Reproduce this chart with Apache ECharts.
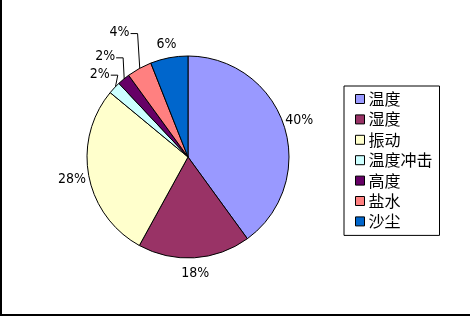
<!DOCTYPE html>
<html>
<head>
<meta charset="utf-8">
<script src="https://cdn.jsdelivr.net/npm/echarts@6/dist/echarts.min.js"></script>
<style>
html,body{margin:0;padding:0;background:#fff;}
#wrap{position:relative;width:470px;height:316px;overflow:hidden;}
#chart{position:absolute;left:0;top:0;width:470px;height:316px;}
#fl{position:absolute;left:0;top:0;width:2px;height:316px;background:#000;}
#fb{position:absolute;left:0;top:314px;width:470px;height:2px;background:#000;}
</style>
</head>
<body>
<div id="wrap"><div id="chart"></div><div id="fl"></div><div id="fb"></div></div>
<script>
const categories = ['温度', '湿度', '振动', '温度冲击', '高度', '盐水', '沙尘'];
const values = [40, 18, 28, 2, 2, 4, 6];
const colors = ['#9999FF', '#993366', '#FFFFCC', '#CCFFFF', '#660066', '#FF8080', '#0066CC'];

// layout / style settings
const CX = 188, CY = 157, RAD = 101;
const labelRadius = [117, 117, 118, 121, 130, 142, 115];
const hasLeader = [false, false, false, true, true, true, false];

const total = values.reduce((a, b) => a + b, 0);
const cum = [];
values.reduce((acc, v, i) => { cum[i] = acc; return acc + v; }, 0);

const chart = echarts.init(document.getElementById('chart'), null, { renderer: 'canvas' });
chart.setOption({
  animation: false,
  backgroundColor: '#fff',
  legend: {
    orient: 'vertical',
    left: 344,
    top: 86,
    padding: [5, 7, 6, 11],
    borderColor: '#000',
    borderWidth: 1,
    itemWidth: 9,
    itemHeight: 9,
    itemGap: 4.4,
    icon: 'rect',
    itemStyle: { borderColor: '#000', borderWidth: 1 },
    textStyle: { fontFamily: '"Noto Sans CJK SC", sans-serif', fontSize: 16, lineHeight: 16, color: '#000', padding: [0, 0, 0, -1] },
    data: categories
  },
  series: [{
    type: 'pie',
    center: [CX, CY],
    radius: RAD,
    startAngle: 90,
    clockwise: true,
    avoidLabelOverlap: false,
    percentPrecision: 0,
    itemStyle: { borderColor: '#000', borderWidth: 1 },
    emphasis: { disabled: true },
    label: {
      show: true,
      position: 'outside',
      formatter: '{c}%',
      fontFamily: '"Liberation Sans Narrow", "DejaVu Sans Condensed", sans-serif',
      fontSize: 14,
      color: '#000'
    },
    labelLine: { show: true, lineStyle: { color: '#000', width: 1 } },
    labelLayout: function (p) {
      const i = p.dataIndex;
      const th = (cum[i] + values[i] / 2) / total * Math.PI * 2;
      const ux = Math.sin(th), uy = -Math.cos(th);
      const R = labelRadius[i];
      const x = CX + R * ux, y = CY + R * uy;
      const res = { x: x, y: y, align: 'center', verticalAlign: 'middle' };
      if (hasLeader[i]) {
        const right = x + p.labelRect.width / 2;
        res.labelLinePoints = [[CX + (RAD - 1) * ux, CY + (RAD - 1) * uy], [right + 8, y + 1], [right + 1, y + 1]];
      }
      return res;
    },
    data: categories.map((n, i) => ({
      name: n,
      value: values[i],
      itemStyle: { color: colors[i] },
      labelLine: { show: hasLeader[i] }
    }))
  }]
});
</script>
</body>
</html>
